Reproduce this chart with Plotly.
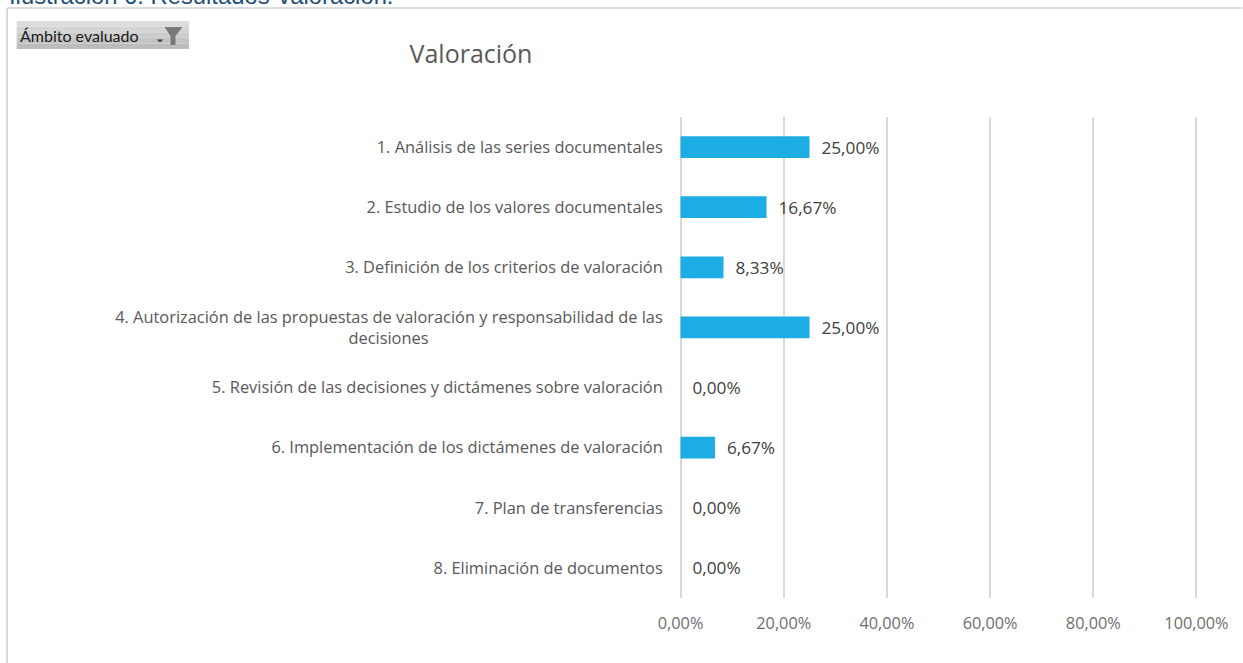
import plotly.graph_objects as go

categories = [
    "1. Análisis de las series documentales",
    "2. Estudio de los valores documentales",
    "3. Definición de los criterios de valoración",
    "4. Autorización de las propuestas de valoración y responsabilidad de las decisiones",
    "5. Revisión de las decisiones y dictámenes sobre valoración",
    "6. Implementación de los dictámenes de valoración",
    "7. Plan de transferencias",
    "8. Eliminación de documentos",
]
tick_labels = [
    "1. Análisis de las series documentales",
    "2. Estudio de los valores documentales",
    "3. Definición de los criterios de valoración",
    "4. Autorización de las propuestas de valoración y responsabilidad de las<br>decisiones" + "\u00a0" * 55,
    "5. Revisión de las decisiones y dictámenes sobre valoración",
    "6. Implementación de los dictámenes de valoración",
    "7. Plan de transferencias",
    "8. Eliminación de documentos",
]
values = [0.25, 0.1667, 0.0833, 0.25, 0.0, 0.0667, 0.0, 0.0]
x_ticks = [0, 0.2, 0.4, 0.6, 0.8, 1.0]

W, H = 1243, 663
L, R, T, B = 679, 1198.5, 117, 598
FONT = "Open Sans"
GREY = "#595959"


def px(v):
    return (v - L) / (R - L)


def py(v):
    return (B - v) / (B - T)


fig = go.Figure(go.Bar(
    y=categories, x=values, orientation="h",
    marker=dict(color="#1CADE4", line=dict(width=0)),
    width=0.36,
    texttemplate="\u00a0\u00a0%{x:.2%}",
    textposition="outside",
    constraintext="none",
    textfont=dict(family=FONT, size=17.2, color="#404040"),
    cliponaxis=False,
))

shapes = [
    dict(type="line", xref="paper", yref="paper", x0=px(6.5), x1=px(W), y0=py(8), y1=py(8),
         line=dict(color="#d0d0d0", width=1.5)),
    dict(type="line", xref="paper", yref="paper", x0=px(6.5), x1=px(6.5), y0=py(8), y1=py(H),
         line=dict(color="#d0d0d0", width=1.5)),
]
band_colors = ["#dcdcdc", "#d4d4d4", "#cccccc", "#c4c4c4", "#bcbcbc"]
for i, c in enumerate(band_colors):
    shapes.append(dict(type="rect", xref="paper", yref="paper",
                       x0=px(16), x1=px(188.5),
                       y0=py(21 + i * 5.6), y1=py(21 + (i + 1) * 5.6),
                       fillcolor=c, line=dict(width=0), layer="below"))
# funnel icon and dropdown caret of the filter button
shapes.append(dict(type="path", xref="paper", yref="paper",
                   path=f"M {px(164)} {py(27)} L {px(182)} {py(27)} L {px(175)} {py(36)} "
                        f"L {px(175)} {py(45)} L {px(170)} {py(45)} L {px(170)} {py(36)} Z",
                   fillcolor="#7a7a7a", line=dict(width=0)))
shapes.append(dict(type="path", xref="paper", yref="paper",
                   path=f"M {px(156)} {py(39.5)} L {px(163)} {py(39.5)} L {px(159.5)} {py(42.5)} Z",
                   fillcolor="#404040", line=dict(width=0)))

annotations = [
    dict(text="Ilustración 6. Resultados Valoración.", xref="paper", yref="paper",
         x=px(7), y=py(-5), xanchor="left", yanchor="middle", showarrow=False, borderpad=0,
         font=dict(family="Liberation Sans", size=23.8, color="#1F4E79")),
    dict(text="Ámbito evaluado", xref="paper", yref="paper",
         x=px(18), y=py(35), xanchor="left", yanchor="middle", showarrow=False, borderpad=0,
         font=dict(family="Lato", size=16, color="#1a1a1a")),
]

fig.update_layout(
    width=W, height=H, autosize=False,
    paper_bgcolor="white", plot_bgcolor="white",
    margin=dict(l=L, r=W - R, t=T, b=H - B, autoexpand=False, pad=0),
    separators=",.",
    showlegend=False,
    title=dict(text="Valoración", x=471 / W, xanchor="center", y=1 - 54 / H, yanchor="middle",
               font=dict(family=FONT, size=25, color=GREY)),
    xaxis=dict(range=[-0.003, 1.003], tickvals=x_ticks, tickformat=".2%",
               showgrid=True, gridcolor="#d9d9d9", gridwidth=2,
               zeroline=False, showline=False,
               ticks="outside", ticklen=10, tickcolor="rgba(0,0,0,0)",
               tickfont=dict(family=FONT, size=16.3, color="#6e6e6e")),
    yaxis=dict(categoryorder="array", categoryarray=categories, autorange="reversed",
               tickmode="array", tickvals=categories, ticktext=tick_labels,
               showgrid=False, zeroline=False, showline=False,
               ticks="outside", ticklen=12, tickcolor="rgba(0,0,0,0)",
               tickfont=dict(family=FONT, size=16.4, color=GREY)),
    shapes=shapes, annotations=annotations,
)

fig.write_html("out.html", post_script="document.body.style.margin='0';",
               config={"displayModeBar": False})
